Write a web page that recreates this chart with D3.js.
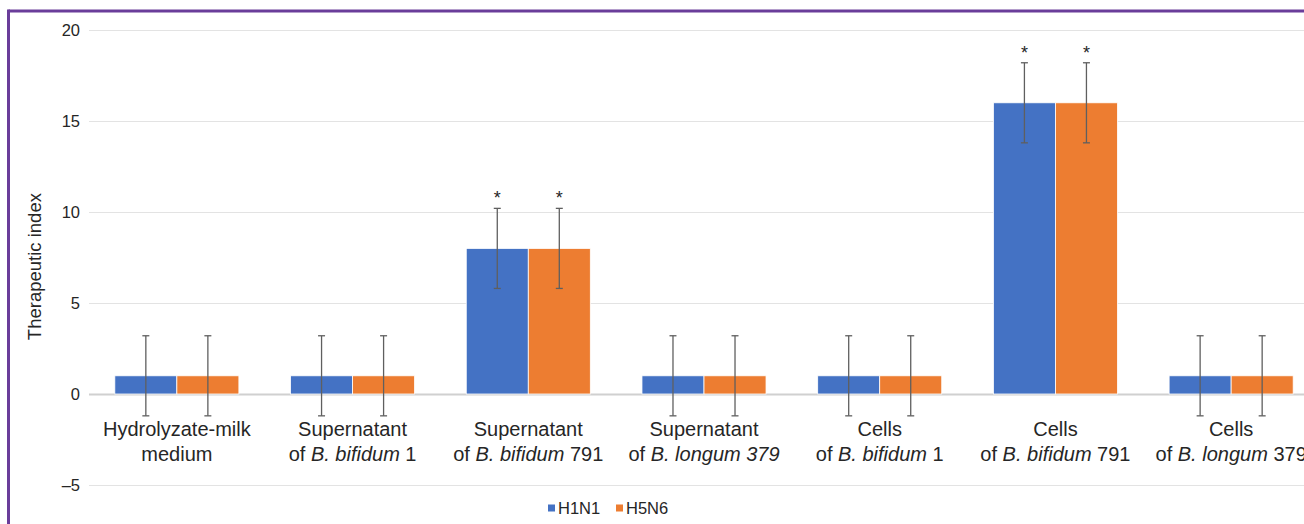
<!DOCTYPE html>
<html lang="en">
<head>
<meta charset="UTF-8">
<title>Therapeutic index</title>
<script src="https://d3js.org/d3.v7.min.js"></script>
<style>
  body { margin: 0; background: #fff; font-family: "Liberation Sans", Arial, sans-serif; }
  svg text { fill: #262626; }
</style>
</head>
<body>
<div id="chart"></div>
<script>
// category labels: [line 1, line 2 parts ( [text, italic] )]
const categories = [
  { l1: "Hydrolyzate-milk", l2: [["medium", false]] },
  { l1: "Supernatant", l2: [["of ", false], ["B. bifidum", true], [" 1", false]] },
  { l1: "Supernatant", l2: [["of ", false], ["B. bifidum", true], [" 791", false]] },
  { l1: "Supernatant", l2: [["of ", false], ["B. longum 379", true]] },
  { l1: "Cells", l2: [["of ", false], ["B. bifidum", true], [" 1", false]] },
  { l1: "Cells", l2: [["of ", false], ["B. bifidum", true], [" 791", false]] },
  { l1: "Cells", l2: [["of ", false], ["B. longum", true], [" 379", false]] }
];
const series = ["H1N1", "H5N6"];
const h1n1 = [1, 1, 8, 1, 1, 16, 1];
const h5n6 = [1, 1, 8, 1, 1, 16, 1];
const errH1N1 = [2.2, 2.2, 2.2, 2.2, 2.2, 2.2, 2.2];
const errH5N6 = [2.2, 2.2, 2.2, 2.2, 2.2, 2.2, 2.2];
const significant = [false, false, true, false, false, true, false];
const yTicks = [-5, 0, 5, 10, 15, 20];
const colors = ["#4472c4", "#ed7d31"];

const width = 1304, height = 524;
const svg = d3.select("#chart").append("svg")
  .attr("width", width).attr("height", height);

// frame
svg.append("line").attr("x1", 8.5).attr("x2", width).attr("y1", 11).attr("y2", 11)
  .attr("stroke", "#6a3d9a").attr("stroke-width", 3);
svg.append("line").attr("x1", 8.5).attr("x2", 8.5).attr("y1", 9.5).attr("y2", height)
  .attr("stroke", "#6a3d9a").attr("stroke-width", 3);

const x0 = d3.scaleBand().domain(d3.range(categories.length)).range([89, 1319]).paddingInner(0).paddingOuter(0);
const groupW = x0.bandwidth() * 0.706;
const x1 = d3.scaleBand().domain(series).range([0, groupW]);
const y = d3.scaleLinear().domain([-5, 20]).range([485, 30]);

// gridlines
svg.append("g").selectAll("line").data(yTicks).join("line")
  .attr("x1", 89).attr("x2", width)
  .attr("y1", d => Math.round(y(d)) + 0.5).attr("y2", d => Math.round(y(d)) + 0.5)
  .attr("stroke", d => d === 0 ? "#d0d0d0" : "#e3e3e3")
  .attr("stroke-width", d => d === 0 ? 2 : 1);

// y tick labels
svg.append("g").selectAll("text").data(yTicks).join("text")
  .attr("x", 80).attr("y", d => y(d)).attr("dy", "0.35em")
  .attr("text-anchor", "end").attr("font-size", 16.5)
  .text(d => d < 0 ? "\u2013" + Math.abs(d) : d);

svg.append("text")
  .attr("transform", `translate(41,${y(7)}) rotate(-90)`)
  .attr("text-anchor", "middle").attr("font-size", 18.5)
  .text("Therapeutic index");

const vals = [h1n1, h5n6], errs = [errH1N1, errH5N6];
const groups = svg.append("g").selectAll("g").data(categories).join("g")
  .attr("transform", (d, i) => `translate(${x0(i) + (x0.bandwidth() - groupW) / 2},0)`);

series.forEach((s, si) => {
  groups.append("rect")
    .attr("x", x1(s)).attr("width", x1.bandwidth())
    .attr("y", (d, i) => y(vals[si][i])).attr("height", (d, i) => y(0) - y(vals[si][i]))
    .attr("fill", colors[si]).attr("stroke", "#fff").attr("stroke-width", 0.8);
});

series.forEach((s, si) => {
  const cx = x1(s) + x1.bandwidth() / 2;
  const eb = groups.append("g").attr("stroke", "#5f5f5f").attr("stroke-width", 1.3);
  eb.append("line").attr("x1", cx).attr("x2", cx)
    .attr("y1", (d, i) => y(vals[si][i] + errs[si][i])).attr("y2", (d, i) => y(vals[si][i] - errs[si][i]));
  eb.append("line").attr("x1", cx - 3.5).attr("x2", cx + 3.5)
    .attr("y1", (d, i) => y(vals[si][i] + errs[si][i])).attr("y2", (d, i) => y(vals[si][i] + errs[si][i]));
  eb.append("line").attr("x1", cx - 3.5).attr("x2", cx + 3.5)
    .attr("y1", (d, i) => y(vals[si][i] - errs[si][i])).attr("y2", (d, i) => y(vals[si][i] - errs[si][i]));
  groups.filter((d, i) => significant[i]).append("text")
    .attr("x", cx).attr("y", function() {
      const i = categories.indexOf(d3.select(this.parentNode).datum());
      return y(vals[si][i] + errs[si][i]) - 4;
    })
    .attr("text-anchor", "middle").attr("font-size", 18).text("*");
});

// category labels
svg.append("g").selectAll("text").data(categories).join("text")
  .attr("x", (d, i) => x0(i) + x0.bandwidth() / 2).attr("y", 436)
  .attr("text-anchor", "middle").attr("font-size", 20).text(d => d.l1);
const lab2 = svg.append("g").selectAll("text").data(categories).join("text")
  .attr("x", (d, i) => x0(i) + x0.bandwidth() / 2).attr("y", 461)
  .attr("text-anchor", "middle").attr("font-size", 20);
lab2.selectAll("tspan").data(d => d.l2).join("tspan")
  .attr("font-style", d => d[1] ? "italic" : "normal").text(d => d[0]);

// legend
const legend = svg.append("g").attr("transform", "translate(548,508)");
const items = [{ x: 0 }, { x: 68 }];
series.forEach((s, si) => {
  legend.append("rect").attr("x", items[si].x).attr("y", -3.5).attr("width", 7).attr("height", 7)
    .attr("fill", colors[si]);
  legend.append("text").attr("x", items[si].x + 10).attr("y", 0).attr("dy", "0.35em")
    .attr("font-size", 16.5).text(s);
});
</script>
</body>
</html>
